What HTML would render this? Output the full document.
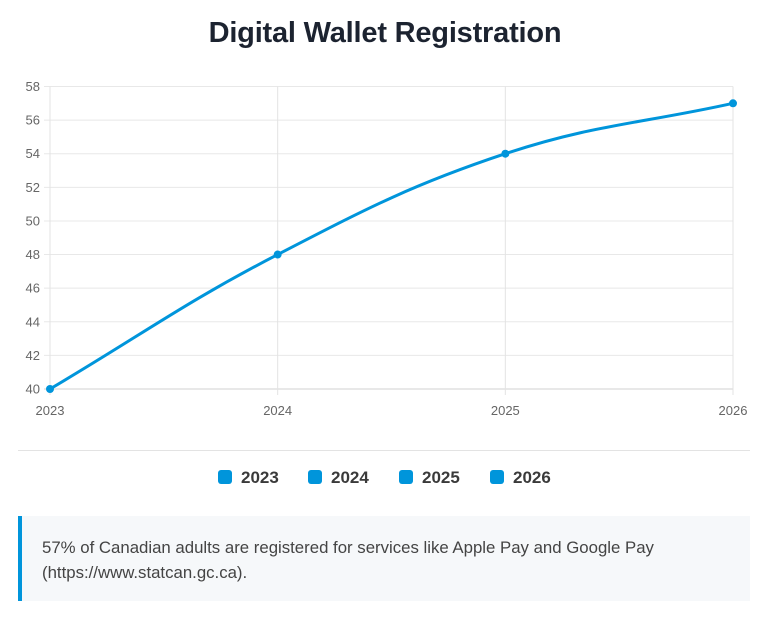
<!DOCTYPE html>
<html><head><meta charset="utf-8"><style>
body{margin:0;width:764px;height:617px;background:#fff;font-family:"Liberation Sans",sans-serif;position:relative;overflow:hidden}
h1{position:absolute;top:17px;left:0;width:770px;text-align:center;margin:0;font-size:29px;font-weight:bold;color:#1c2330;letter-spacing:-0.2px}
#sep{position:absolute;left:18px;top:450px;width:732px;height:1px;background:#e3e3e3}
.leg{position:absolute;top:468px;font-size:17px;font-weight:bold;color:#3a3a3a}
.leg span{display:inline-block;width:14px;height:14px;background:#0095db;border-radius:3px;vertical-align:-1px;margin-right:9px}
#note{position:absolute;left:18px;top:516px;width:732px;height:85px;background:#f6f8fa;border-left:4px solid #0095db;box-sizing:border-box;padding:19px 20px 0 20px;font-size:16.8px;line-height:25px;color:#444}
</style></head><body>
<h1>Digital Wallet Registration</h1>
<svg id="chart" width="764" height="440" style="position:absolute;left:0;top:0"></svg>
<div id="sep"></div>
<div class="leg" style="left:218px"><span></span>2023</div>
<div class="leg" style="left:308px"><span></span>2024</div>
<div class="leg" style="left:399px"><span></span>2025</div>
<div class="leg" style="left:490px"><span></span>2026</div>
<div id="note">57% of Canadian adults are registered for services like Apple Pay and Google Pay (https://www.statcan.gc.ca).</div>
<script>
const categories=["2023","2024","2025","2026"];
const values=[40,48,54,57];
const yTicks=[40,42,44,46,48,50,52,54,56,58];
const X0=50,X1=733,Y0=389,Y1=86.5,YMIN=40,YMAX=58;
const svg=document.getElementById('chart');const NS='http://www.w3.org/2000/svg';
function xs(i){return X0+(X1-X0)*i/(categories.length-1);}
function ys(v){return Y0-(Y0-Y1)*(v-YMIN)/(YMAX-YMIN);}
function mk(t,a){const e=document.createElementNS(NS,t);for(const k in a)e.setAttribute(k,a[k]);svg.appendChild(e);return e;}
yTicks.forEach(v=>{const y=ys(v);
const l=mk('line',{x1:X0-6,x2:X1,y1:y,y2:y,stroke:v===YMIN?'#d0d0d0':'#e8e8e8','stroke-width':1});


const t=mk('text',{x:X0-10,y:y+4.5,'text-anchor':'end','font-size':13,fill:'#666','font-family':'Liberation Sans, sans-serif'});t.textContent=v;

});
categories.forEach((c,i)=>{const x=xs(i);
const l=mk('line',{x1:x,x2:x,y1:Y1,y2:Y0+6,stroke:'#e3e3e3','stroke-width':1});


const t=mk('text',{x:x,y:Y0+26,'text-anchor':'middle','font-size':13,fill:'#666','font-family':'Liberation Sans, sans-serif'});t.textContent=c;

});
const P=values.map((v,i)=>[xs(i),ys(v)]);
const T=0.4;const cps=P.map((p,i)=>{const prev=P[Math.max(i-1,0)],next=P[Math.min(i+1,P.length-1)];
const d01=Math.hypot(p[0]-prev[0],p[1]-prev[1]),d12=Math.hypot(next[0]-p[0],next[1]-p[1]);
let fa=d01/(d01+d12)||0,fb=d12/(d01+d12)||0;fa*=T;fb*=T;
return {p:[p[0]-fa*(next[0]-prev[0]),p[1]-fa*(next[1]-prev[1])],n:[p[0]+fb*(next[0]-prev[0]),p[1]+fb*(next[1]-prev[1])]};});
let d='M'+P[0][0]+','+P[0][1];
for(let i=1;i<P.length;i++){d+=` C${cps[i-1].n[0]},${cps[i-1].n[1]} ${cps[i].p[0]},${cps[i].p[1]} ${P[i][0]},${P[i][1]}`;}
const line=mk('path',{d:d,fill:'none',stroke:'#0095db','stroke-width':3});


P.forEach((p,i)=>{const c=mk('circle',{cx:p[0],cy:p[1],r:4,fill:'#0095db'});

});
</script>
</body></html>
